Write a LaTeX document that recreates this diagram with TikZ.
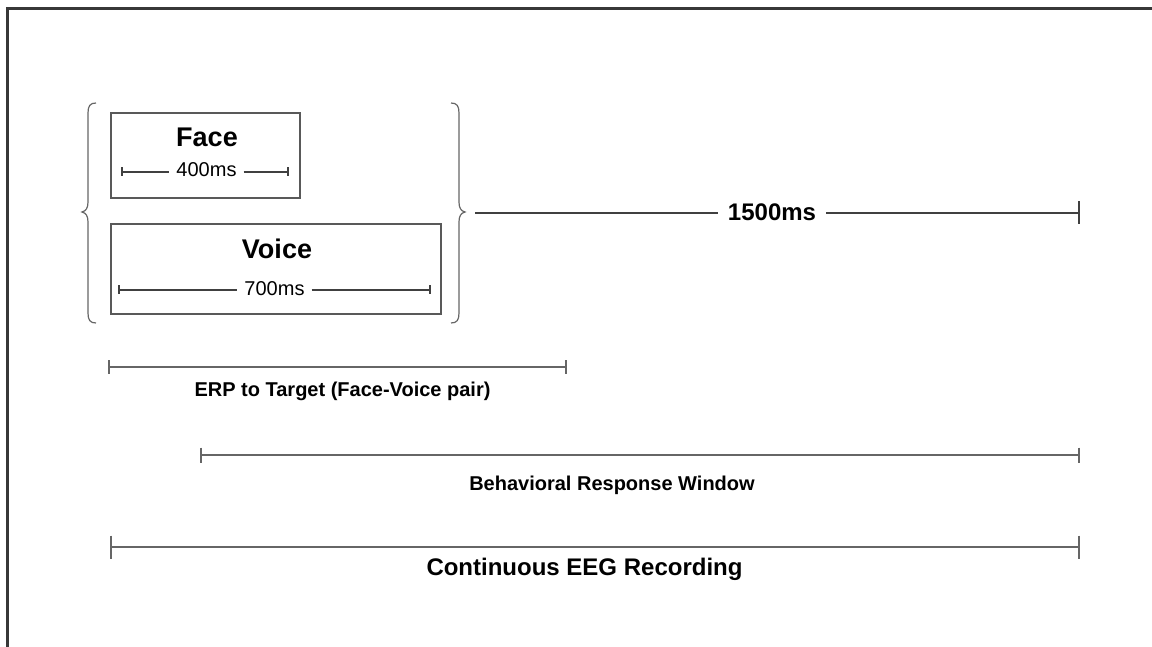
\documentclass[tikz,border=0pt]{standalone}
\usepackage{fontspec}
\setmainfont{Liberation Sans}
\begin{document}
\begin{tikzpicture}[x=1pt,y=-1pt,
  frame/.style={draw=black!78, line width=3pt},
  box/.style={draw=black!65, line width=1.4pt, inner sep=0pt},
  bar/.style={draw=black!60, line width=1.8pt},
  thinbar/.style={draw=black!75, line width=1.1pt},
  curly/.style={draw=black!60, line width=1.2pt},
  lbl/.style={anchor=base, inner sep=0pt},
  gaplbl/.style={anchor=base, inner ysep=0pt, inner xsep=7pt},
  big/.style={font=\fontsize{27}{30}\selectfont\bfseries},
  mid/.style={font=\fontsize{24}{28}\selectfont\bfseries},
  small/.style={font=\fontsize{20}{24}\selectfont\bfseries},
  plain/.style={font=\fontsize{20}{24}\selectfont},
]
\useasboundingbox (0,0) rectangle (1152,647);
\fill[white] (0,0) rectangle (1152,647);

% outer frame (top and left edges)
\draw[frame] (7.5,647) -- (7.5,8.5) -- (1152,8.5);

% stimulus boxes
\node[box, minimum width=189, minimum height=85] (face) at (205.5,155.5) {};
\node[box, minimum width=330, minimum height=90] (voice) at (276,269) {};
\node[lbl, big] (facelbl) at (207,147) {Face};
\node[lbl, big] (voicelbl) at (277,259) {Voice};

% 400 ms scale inside the face box
\node[gaplbl, plain] (t400) at (206.5,177) {400ms};
\coordinate (f400a) at (122,172);
\coordinate (f400b) at (288,172);
\draw[thinbar] (f400a) -- (f400a -| t400.west);
\draw[thinbar] (f400b -| t400.east) -- (f400b);
\draw[thinbar] (f400a) ++(0,-4.5) -- ++(0,9);
\draw[thinbar] (f400b) ++(0,-4.5) -- ++(0,9);

% 700 ms scale inside the voice box
\node[gaplbl, plain] (t700) at (274.5,295) {700ms};
\coordinate (v700a) at (119,290);
\coordinate (v700b) at (430,290);
\draw[thinbar] (v700a) -- (v700a -| t700.west);
\draw[thinbar] (v700b -| t700.east) -- (v700b);
\draw[thinbar] (v700a) ++(0,-4.5) -- ++(0,9);
\draw[thinbar] (v700b) ++(0,-4.5) -- ++(0,9);

% braces around the face-voice pair
\draw[curly] (96,103) .. controls (90,103) and (88,106) .. (88,113) -- (88,202)
  .. controls (88,208) and (86,211) .. (82,212)
  .. controls (86,213) and (88,216) .. (88,222) -- (88,313)
  .. controls (88,320) and (90,323) .. (96,323);
\draw[curly] (451,103) .. controls (457,103) and (459,106) .. (459,113) -- (459,202)
  .. controls (459,208) and (461,211) .. (465,212)
  .. controls (461,213) and (459,216) .. (459,222) -- (459,313)
  .. controls (459,320) and (457,323) .. (451,323);

% 1500 ms interval
\node[anchor=base, inner ysep=0pt, inner xsep=10pt, mid] (t1500) at (772,221) {1500ms};
\coordinate (i1500a) at (475,213);
\coordinate (i1500b) at (1079,213);
\draw[thinbar] (i1500a) -- (i1500a -| t1500.west);
\draw[thinbar] (i1500b -| t1500.east) -- (i1500b);
\draw[thinbar] (i1500b) ++(0,-11.5) -- ++(0,23);

% ERP epoch
\coordinate (erpa) at (109,367);
\coordinate (erpb) at (566,367);
\draw[bar] (erpa) -- (erpb);
\draw[bar] (erpa) ++(0,-7) -- ++(0,14);
\draw[bar] (erpb) ++(0,-7) -- ++(0,14);
\node[lbl, small] (erplbl) at (342.5,396) {ERP to Target (Face-Voice pair)};

% behavioural response window
\coordinate (bra) at (201,455);
\coordinate (brb) at (1079,455);
\draw[bar] (bra) -- (brb);
\draw[bar] (bra) ++(0,-7.5) -- ++(0,15);
\draw[bar] (brb) ++(0,-7.5) -- ++(0,15);
\node[lbl, small] (brlbl) at (612,490) {Behavioral Response Window};

% continuous recording
\coordinate (eega) at (111,547);
\coordinate (eegb) at (1079,547);
\draw[bar] (eega) -- (eegb);
\draw[bar] (eega) ++(0,-11.5) -- ++(0,23);
\draw[bar] (eegb) ++(0,-11.5) -- ++(0,23);
\node[lbl, mid] (eeglbl) at (584.5,575) {Continuous EEG Recording};
\end{tikzpicture}
\end{document}
